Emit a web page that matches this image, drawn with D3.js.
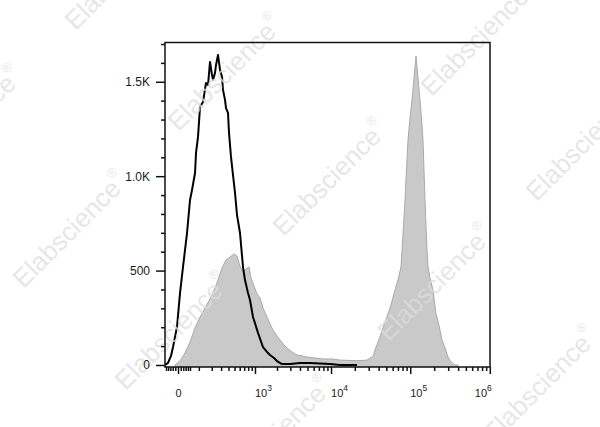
<!DOCTYPE html>
<html><head><meta charset="utf-8">
<script src="https://cdn.jsdelivr.net/npm/d3@7"></script>
<style>html,body{margin:0;padding:0;background:#fff;} svg{display:block}</style>
</head><body><svg id="c" width="600" height="427"></svg>
<script>
// ---- data (fluorescence intensity, event count) ----
const grayX = [-11.0,7.2,27.2,50.2,76.9,107.7,143.3,184.3,231.9,263.8,311.1,364.1,423.6,490.4,545.8,606.1,672.2,744.1,822.6,878.7,969.4,1068,1176,1293,1467,1611,1768,1999,2192,2476,2711,3152,3662,4251,4931,6245,7903,10290,13000,17400,21330,24670,28530,31130,33970,36000,39270,42830,46720,50970,57230,64270,70110,76470,81050,85920,93700,99300,105200,111500,118100,125200,132600,140500,144600,153300,162400,167200,177100,193100,210800,216900,236700,250700,273500,298300,325200,365300,398300];
const grayY = [0,21,64,122,196,254,302,350,408,450,514,556,572,588,577,524,493,508,520,461,418,376,355,302,254,217,185,154,132,106,90,69,53,48,42,37,32,32,26,24,23,24,26,37,44,79,122,164,212,254,318,397,450,519,689,874,1192,1308,1404,1520,1637,1520,1404,1271,1192,874,609,519,461,397,270,254,185,132,90,42,16,0,0];
const blackX = [-55.3,-40.6,-27.2,-18.8,-11.0,-3.6,7.2,18.8,36.0,50.2,60.4,76.9,82.7,94.8,107.7,128.4,151.0,167.3,184.3,202.5,212.0,231.9,242.3,263.8,286.7,311.1,323.7,350.3,364.1,392.9,408.0,423.6,439.5,473.0,508.4,545.8,606.1,672.2,719.4,795.7,850.1,938.2,1103,1293,1467,1611,1823,1999,2329,2968,4005,5388,7234,9705,13000,17400,21330];
const blackY = [0,11,48,95,148,201,381,519,699,874,927,1017,1123,1208,1367,1393,1494,1483,1605,1536,1510,1547,1589,1642,1563,1526,1457,1404,1361,1335,1229,1165,1102,1006,911,795,699,519,450,381,344,254,170,95,69,53,37,21,5,5,11,11,8,5,0,0,0];

const yTicks = [0, 500, 1000, 1500];
const yTickLabels = ["0", "500", "1.0K", "1.5K"];
const yMinorTicks = [100,200,300,400,600,700,800,900,1100,1200,1300,1400,1600,1700];
const xTicks = [0, 1e3, 1e4, 1e5, 1e6];
const xTickBase = ["0", "10", "10", "10", "10"];
const xTickExp = ["", "3", "4", "5", "6"];
const xMinorTicks = [-50,-40,-30,-20,-10,10,20,30,40,50,100,200,300,400,500,600,700,800,900,
  2e3,3e3,4e3,5e3,6e3,7e3,8e3,9e3,2e4,3e4,4e4,5e4,6e4,7e4,8e4,9e4,2e5,3e5,4e5,5e5,6e5,7e5,8e5,9e5];
const watermarkText = "Elabscience";

// ---- layout ----
const F = {l:165, r:490, t:42.5, b:367};
const FONT = "'Liberation Sans', Arial, sans-serif";
const svg = d3.select('#c');

const x = d3.scaleSymlog().constant(121).domain([-55.3, 1005500]).range([F.l, F.r]);
const y = d3.scaleLinear().domain([-10.6, 1708]).range([F.b, F.t]);

const gray = grayX.map((v,i)=>[v, grayY[i]]);
const black = blackX.map((v,i)=>[v, blackY[i]]);

svg.append('defs').append('clipPath').attr('id','clip')
  .append('rect').attr('x',F.l).attr('y',F.t).attr('width',F.r-F.l).attr('height',F.b-F.t);

const plot = svg.append('g').attr('clip-path','url(#clip)');
plot.append('path').datum(gray)
  .attr('d', d3.area().x(d=>x(d[0])).y0(y(y.domain()[0])).y1(d=>y(d[1])))
  .attr('fill','#c9c9c9').attr('stroke','#a9a9a9').attr('stroke-width',1);

// watermarks
const wmPos = [[122,-28],[225,73],[330,178],[435,283],[540,385],[-35,125],[70,230],[172,332],[275,435],[478,38],[583,143]];
const wm = svg.append('g');
wmPos.forEach(p=>{
  const t = wm.append('text').attr('transform',`translate(${p[0]},${p[1]}) rotate(-45)`)
    .attr('text-anchor','middle').attr('dominant-baseline','central')
    .attr('font-family',FONT).attr('font-size',26).attr('fill','#dedede').attr('fill-opacity',0.75);
  t.append('tspan').text(watermarkText);
  t.append('tspan').attr('font-size',13).attr('dy','-0.9em').text('®');
});

plot.append('path').datum(black)
  .attr('d', d3.line().x(d=>x(d[0])).y(d=>y(d[1])))
  .attr('fill','none').attr('stroke','#000').attr('stroke-width',2).attr('stroke-linejoin','round');

// frame
svg.append('rect').attr('x',F.l).attr('y',F.t).attr('width',F.r-F.l).attr('height',F.b-F.t)
  .attr('fill','none').attr('stroke','#111').attr('stroke-width',1.5);

// y axis
const gy = svg.append('g').attr('transform',`translate(${F.l},0)`)
  .call(d3.axisLeft(y).tickValues(yTicks).tickSize(9).tickPadding(6).tickFormat((d,i)=>yTickLabels[i]));
const gym = svg.append('g').attr('transform',`translate(${F.l},0)`)
  .call(d3.axisLeft(y).tickValues(yMinorTicks).tickSize(4).tickFormat(''));
// x axis
const gx = svg.append('g').attr('transform',`translate(0,${F.b})`)
  .call(d3.axisBottom(x).tickValues(xTicks).tickSize(7).tickFormat(''));
const gxm = svg.append('g').attr('transform',`translate(0,${F.b})`)
  .call(d3.axisBottom(x).tickValues(xMinorTicks).tickSize(4).tickFormat(''));

[gy,gym,gx,gxm].forEach(g=>{
  g.select('.domain').remove();
  g.selectAll('line').attr('stroke','#111').attr('stroke-width',1.5);
});
gy.selectAll('text').attr('font-family',FONT).attr('font-size',12).attr('fill','#1a1a1a');

xTicks.forEach((v,i)=>{
  const px = x(v);
  const t = svg.append('text').attr('y',397).attr('font-family',FONT).attr('font-size',11).attr('fill','#1a1a1a');
  if (!xTickExp[i]) {
    t.attr('x',px+0.5).attr('text-anchor','middle').text(xTickBase[i]);
  } else {
    const last = i === xTicks.length-1;
    t.attr('x', last ? px+2 : px).attr('text-anchor', last ? 'end' : 'start');
    t.append('tspan').text(xTickBase[i]);
    t.append('tspan').attr('font-size',8.5).attr('dy',-6).text(xTickExp[i]);
  }
});
</script></body></html>
